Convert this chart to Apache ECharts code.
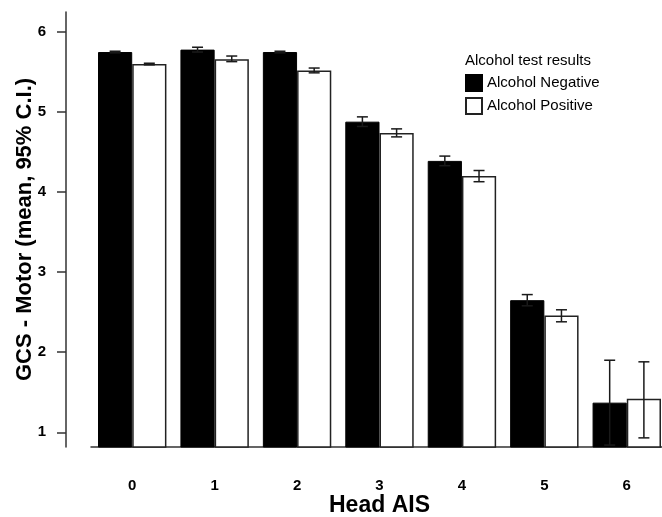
<!DOCTYPE html>
<html>
<head>
<meta charset="utf-8">
<script src="https://cdn.jsdelivr.net/npm/echarts@6/dist/echarts.min.js"></script>
<style>
html,body{margin:0;padding:0;background:#fff;}
#chart{width:662px;height:517px;}
</style>
</head>
<body>
<div id="chart"></div>
<script>
const categories = ['0', '1', '2', '3', '4', '5', '6'];
const negMean = [5.75, 5.78, 5.75, 4.88, 4.39, 2.65, 1.37];
const negLow  = [5.74, 5.75, 5.74, 4.82, 4.33, 2.58, 0.84];
const negHigh = [5.76, 5.81, 5.76, 4.94, 4.45, 2.72, 1.90];
const posMean = [5.60, 5.66, 5.52, 4.74, 4.20, 2.46, 1.42];
const posLow  = [5.59, 5.63, 5.49, 4.69, 4.13, 2.38, 0.93];
const posHigh = [5.61, 5.70, 5.55, 4.79, 4.27, 2.53, 1.88];
const yTicks = [1, 2, 3, 4, 5, 6];

const FONT = '"Liberation Sans", Arial, sans-serif';
const GAP = 0.17;

function errData(lo, hi) {
  return categories.map((c, i) => [i, lo[i], hi[i]]);
}
function errRender(side) {
  return function (params, api) {
    const i = api.value(0);
    const pLo = api.coord([i, api.value(1)]);
    const pHi = api.coord([i, api.value(2)]);
    const band = api.size([1, 0])[0];
    const bw = band * (1 - GAP) / 2;
    const x = pLo[0] + side * bw / 2;
    const cap = 5.5;
    const st = { stroke: '#1a1a1a', lineWidth: 1.5 };
    return {
      type: 'group',
      children: [
        { type: 'line', shape: { x1: x, y1: pLo[1], x2: x, y2: pHi[1] }, style: st },
        { type: 'line', shape: { x1: x - cap, y1: pLo[1], x2: x + cap, y2: pLo[1] }, style: st },
        { type: 'line', shape: { x1: x - cap, y1: pHi[1], x2: x + cap, y2: pHi[1] }, style: st }
      ]
    };
  };
}

const chart = echarts.init(document.getElementById('chart'), null, { renderer: 'canvas' });
chart.setOption({
  animation: false,
  backgroundColor: '#fff',
  textStyle: { fontFamily: FONT },
  grid: { left: 91, right: -6, top: 12, bottom: 70, containLabel: false, outerBoundsMode: 'none' },
  graphic: [{
    type: 'text', left: 465, top: 53,
    style: { text: 'Alcohol test results', font: '15px ' + FONT, fill: '#000' }
  }],
  legend: {
    orient: 'vertical', left: 465, top: 74, padding: 0,
    itemWidth: 16, itemHeight: 16, itemGap: 5,
    icon: 'rect',
    textStyle: { fontFamily: FONT, fontSize: 15, color: '#000' },
    data: ['Alcohol Negative', 'Alcohol Positive']
  },
  xAxis: {
    type: 'category', data: categories,
    boundaryGap: true,
    name: 'Head AIS', nameLocation: 'middle', nameGap: 47, nameMoveOverlap: false,
    nameTextStyle: { fontFamily: FONT, fontSize: 23, fontWeight: 'bold', color: '#000' },
    axisLine: { lineStyle: { color: '#333', width: 1.5 } },
    axisTick: { alignWithLabel: true, length: 10, lineStyle: { color: '#333', width: 1.5 } },
    axisLabel: { margin: 31, fontFamily: FONT, fontSize: 15, fontWeight: 'bold', color: '#000' },
    splitLine: { show: false }
  },
  yAxis: {
    type: 'value', min: 0.816, max: 6.25, offset: 25,
    name: 'GCS - Motor (mean, 95% C.I.)', nameLocation: 'middle', nameGap: 30, nameMoveOverlap: false,
    nameTextStyle: { fontFamily: FONT, fontSize: 22, fontWeight: 'bold', color: '#000' },
    axisLine: { show: true, lineStyle: { color: '#333', width: 1.5 } },
    axisTick: { show: true, length: 9, customValues: yTicks, lineStyle: { color: '#333', width: 1.5 } },
    axisLabel: { margin: 20, customValues: yTicks, fontFamily: FONT, fontSize: 15, fontWeight: 'bold', color: '#000' },
    splitLine: { show: false }
  },
  series: [
    {
      name: 'Alcohol Negative', type: 'bar', data: negMean,
      barGap: '0%', barCategoryGap: (GAP * 100) + '%',
      itemStyle: { color: '#000', borderColor: '#000', borderWidth: 1 }
    },
    {
      name: 'Alcohol Positive', type: 'bar', data: posMean,
      barGap: '0%', barCategoryGap: (GAP * 100) + '%',
      itemStyle: { color: '#fff', borderColor: '#222', borderWidth: 1.5 }
    },
    {
      type: 'custom', data: errData(negLow, negHigh), renderItem: errRender(-1),
      encode: { x: 0, y: [1, 2] }, z: 5
    },
    {
      type: 'custom', data: errData(posLow, posHigh), renderItem: errRender(1),
      encode: { x: 0, y: [1, 2] }, z: 5
    }
  ]
});
</script>
</body>
</html>
